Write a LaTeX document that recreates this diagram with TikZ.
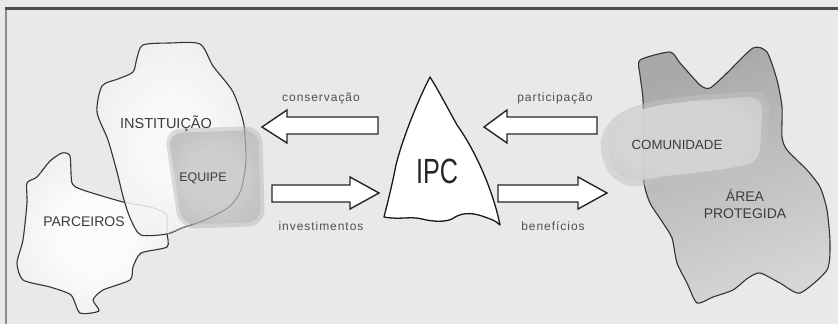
\documentclass[tikz,border=0pt]{standalone}
\usepackage{fontspec}
\setmainfont{Liberation Sans}
\newfontfamily\condfont[FakeStretch=0.72]{Liberation Sans}
\newfontfamily\labfont{Liberation Sans}
\newfontfamily\smallfont[LetterSpace=8]{Liberation Sans}
\definecolor{bgc}{HTML}{E9E9E9}
\definecolor{linec}{HTML}{333333}
\definecolor{txtc}{HTML}{3C3C3C}
\definecolor{smallc}{HTML}{505050}
\definecolor{blobedge}{HTML}{D4D4D4}
\definecolor{blobmid}{HTML}{EEEEEE}
\definecolor{blobin}{HTML}{FBFBFB}
\definecolor{eqedge}{HTML}{A4A4A4}
\definecolor{eqmid}{HTML}{BCBCBC}
\definecolor{eqin}{HTML}{CECECE}
\definecolor{areadark}{HTML}{A8A8A8}
\definecolor{arealight}{HTML}{D6D6D6}
\definecolor{comc}{HTML}{C2C2C2}
\definecolor{comin}{HTML}{D6D6D6}
\pgfdeclareradialshading{blobshade}{\pgfpoint{0bp}{0bp}}{color(0bp)=(blobin); color(12bp)=(blobin); color(30bp)=(blobmid); color(50bp)=(blobedge); color(70bp)=(blobedge)}
\pgfdeclareradialshading{eqshade}{\pgfpoint{0bp}{0bp}}{color(0bp)=(eqin); color(14bp)=(eqin); color(34bp)=(eqmid); color(48bp)=(eqedge); color(70bp)=(eqedge)}
\pgfdeclareradialshading{comshade}{\pgfpoint{0bp}{0bp}}{color(0bp)=(comin); color(20bp)=(comin); color(46bp)=(comc); color(70bp)=(comc)}
\tikzset{
  blobline/.style={draw=linec, line width=1.1pt, line join=round},
  bigarrow/.style={draw=black!85, fill=white, line width=1.4pt, line join=miter},
  caplabel/.style={font=\labfont\fontsize{14}{14}\selectfont, text=txtc, inner sep=0pt},
  smalllabel/.style={font=\smallfont\fontsize{12}{12}\selectfont, text=smallc, inner sep=0pt},
}
\begin{document}
\begin{tikzpicture}[x=1pt,y=-1pt]
\useasboundingbox (0,0) rectangle (838,324);
\fill[bgc] (0,0) rectangle (838,324);
% frame
\draw[color=black!45, line width=2pt] (6,8) -- (6,324);
\draw[color=black!70, line width=3pt] (5,8.5) -- (838,8.5);

% PARCEIROS blob
\shade[shading=blobshade, blobline]
  plot[smooth cycle, tension=0.4] coordinates {
  (62,153) (70,156) (72,183) (83,190) (123,202) (150,207) (166,214) (167,233)
  (167,247) (141,253) (133,267) (130,280) (103,290) (93,300) (99,311) (80,313)
  (71,295) (50,287) (23,280) (17,263) (23,240) (27,203) (27,183) (37,177) (50,161)};

% INSTITUICAO blob
\shade[shading=blobshade, blobline, fill opacity=0.85]
  plot[smooth cycle, tension=0.45] coordinates {
  (143,45) (170,43) (200,44) (213,66) (233,92) (244,125) (246,160) (241,190)
  (229,207) (205,220) (182,228) (167,234) (141,235) (131,220) (124,200)
  (117,172) (108,140) (97,112) (102,86) (118,79) (133,72) (137,58)};

% EQUIPE
\fill[eqedge, opacity=0.35, rounded corners=17pt]
  (164,129) -- (262,126) -- (265,226) -- (179,229) -- cycle;
\shade[shading=eqshade, rounded corners=14pt, opacity=0.92]
  (168,133) -- (258,130) -- (261,222) -- (182,225) -- cycle;
\draw[linec!55, line width=0.9pt]
  plot[smooth, tension=0.45] coordinates {(244,125) (246,160) (241,190) (229,207) (205,220) (182,228) (167,234)};

% AREA PROTEGIDA
\shade[top color=areadark, bottom color=arealight, shading angle=20, blobline]
  plot[smooth cycle, tension=0.4] coordinates {
  (640,60) (670,52) (680,63) (700,85) (710,88) (727,73) (753,48) (767,52)
  (777,80) (782,107) (782,137) (787,150) (807,170) (820,187) (827,210)
  (830,243) (827,270) (800,293) (780,283) (760,273) (748,278) (733,290)
  (713,297) (697,303) (687,283) (677,263) (672,238) (663,223) (650,203)
  (644,183) (643,150) (643,100) (640,75)};

% COMUNIDADE
\fill[comc, opacity=0.5]
  plot[smooth cycle, tension=0.6] coordinates {
  (601,140) (619,114) (660,100) (720,94) (764,95) (768,130) (762,163) (733,174) (667,182) (630,186) (608,171)};
\shade[shading=comshade, opacity=0.9]
  plot[smooth cycle, tension=0.6] coordinates {
  (609,140) (624,117) (662,105) (720,99) (758,100) (761,130) (756,159) (730,168) (667,176) (634,180) (614,168)};

% IPC
\draw[fill=white, draw=black!90, line width=1.3pt, line join=round]
  (430,77) .. controls (418,100) and (402,140) .. (396,165)
  .. controls (391,190) and (387,205) .. (384,217)
  .. controls (400,220) and (410,216) .. (422,219)
  .. controls (434,222) and (445,222) .. (452,219)
  .. controls (460,213) and (470,212) .. (482,216)
  .. controls (490,219) and (495,220) .. (500,225)
  .. controls (493,190) and (475,150) .. (457,125)
  .. controls (446,105) and (437,88) .. (430,77) -- cycle;
\node[font=\condfont\fontsize{35}{35}\selectfont, text=black!85, inner sep=0pt] (ipc) at (437,171) {IPC};

% arrows
\draw[bigarrow] (378,117) -- (287,117) -- (287,110) -- (262,127) -- (287,143) -- (287,134) -- (378,134) -- cycle;
\draw[bigarrow] (597,117) -- (507,117) -- (507,110) -- (484,127) -- (507,143) -- (507,134) -- (597,134) -- cycle;
\draw[bigarrow] (272,185) -- (350,185) -- (350,177) -- (379,193) -- (350,209) -- (350,202) -- (272,202) -- cycle;
\draw[bigarrow] (498,185) -- (578,185) -- (578,177) -- (607,193) -- (578,209) -- (578,202) -- (498,202) -- cycle;

% labels
\node[caplabel, font=\labfont\fontsize{14.5}{14.5}\selectfont] (inst) at (166,124) {INSTITUIÇÃO};
\node[caplabel, font=\labfont\fontsize{12.5}{12.5}\selectfont] (equipe) at (203,178) {EQUIPE};
\node[caplabel] (parc) at (84,222) {PARCEIROS};
\node[caplabel, font=\labfont\fontsize{13.3}{13.3}\selectfont] (comu) at (677,145) {COMUNIDADE};
\node[caplabel, align=center] (area) at (745,204) {ÁREA\\[3pt]PROTEGIDA};
\node[smalllabel] (cons) at (321,98) {conservação};
\node[smalllabel] (part) at (555,98) {participação};
\node[smalllabel] (inv) at (321,226) {investimentos};
\node[smalllabel] (ben) at (553,226) {benefícios};
\end{tikzpicture}
\end{document}
